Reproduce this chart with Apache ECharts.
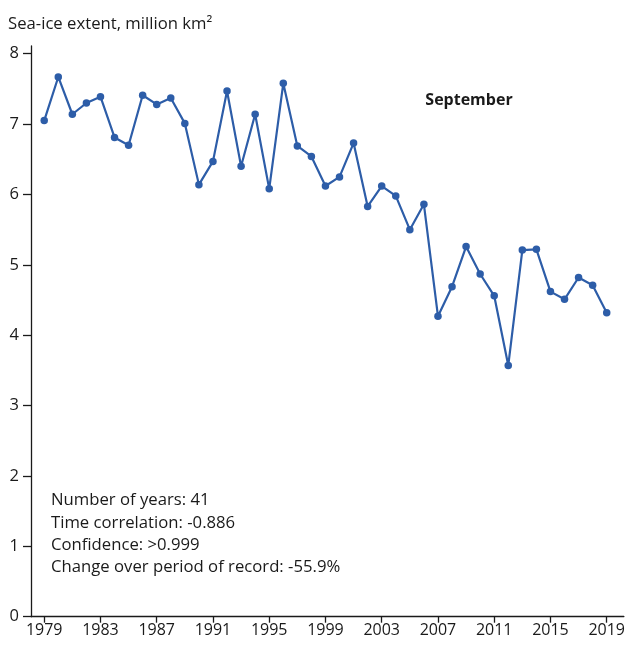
<!DOCTYPE html>
<html>
<head>
<meta charset="utf-8">
<script src="https://cdn.jsdelivr.net/npm/echarts@6/dist/echarts.min.js"></script>
<style>
html,body{margin:0;padding:0;background:#fff;}
#chart{width:628px;height:645px;}
</style>
</head>
<body>
<div id="chart"></div>
<script>
const years = [1979,1980,1981,1982,1983,1984,1985,1986,1987,1988,1989,1990,1991,1992,1993,1994,1995,1996,1997,1998,1999,2000,2001,2002,2003,2004,2005,2006,2007,2008,2009,2010,2011,2012,2013,2014,2015,2016,2017,2018,2019];
const extent = [7.05,7.67,7.14,7.30,7.39,6.81,6.70,7.41,7.28,7.37,7.01,6.14,6.47,7.47,6.40,7.14,6.08,7.58,6.69,6.54,6.12,6.25,6.73,5.83,6.12,5.98,5.50,5.86,4.27,4.69,5.26,4.87,4.56,3.57,5.21,5.22,4.62,4.51,4.82,4.71,4.32];
const xTicks = [1979,1983,1987,1991,1995,1999,2003,2007,2011,2015,2019];
const yTicks = [0,1,2,3,4,5,6,7,8];
const yTitle = 'Sea-ice extent, million km²';
const panelLabel = 'September';
const statsLines = ['Number of years: 41','Time correlation: -0.886','Confidence: >0.999','Change over period of record: -55.9%'];

const FONT = '"Open Sans", "Noto Sans", sans-serif';
const ink = '#1a1a1a';
const chart = echarts.init(document.getElementById('chart'), null, {renderer:'canvas'});
chart.setOption({
  animation:false,
  backgroundColor:'#fff',
  grid:{left:31, right:0, top:46, bottom:28.3, containLabel:false},
  xAxis:{
    type:'value', min:1978.06, max:2020.22,
    axisLine:{show:true, onZero:false, lineStyle:{color:ink, width:1.3}},
    axisTick:{show:true, length:6, customValues:xTicks, lineStyle:{color:ink, width:1.3}},
    axisLabel:{customValues:xTicks, color:ink, fontFamily:FONT, fontSize:16, margin:6, formatter:v=>String(v)},
    splitLine:{show:false}
  },
  yAxis:{
    type:'value', min:0, max:8.11,
    axisLine:{show:true, lineStyle:{color:ink, width:1.3}},
    axisTick:{show:true, length:8, customValues:yTicks, lineStyle:{color:ink, width:1.3}},
    axisLabel:{customValues:yTicks, color:ink, fontFamily:FONT, fontSize:16.5, margin:12},
    splitLine:{show:false}
  },
  series:[{
    type:'line',
    data:years.map((y,i)=>[y, extent[i]]),
    symbol:'circle', symbolSize:7.5,
    lineStyle:{color:'#2d5da8', width:2.2},
    itemStyle:{color:'#2d5da8'}
  }],
  graphic:[
    {type:'text', x:8, y:24, style:{text:yTitle, fill:ink, font:'16.7px '+FONT, textAlign:'left', textVerticalAlign:'middle'}},
    {type:'text', x:469, y:100.5, style:{text:panelLabel, fill:ink, font:'bold 16px '+FONT, textAlign:'center', textVerticalAlign:'middle'}},
    ...statsLines.map((t,i)=>({type:'text', x:51, y:500.7+i*22.2, style:{text:t, fill:ink, font:'16.7px '+FONT, textAlign:'left', textVerticalAlign:'middle'}}))
  ]
});
</script>
</body>
</html>
